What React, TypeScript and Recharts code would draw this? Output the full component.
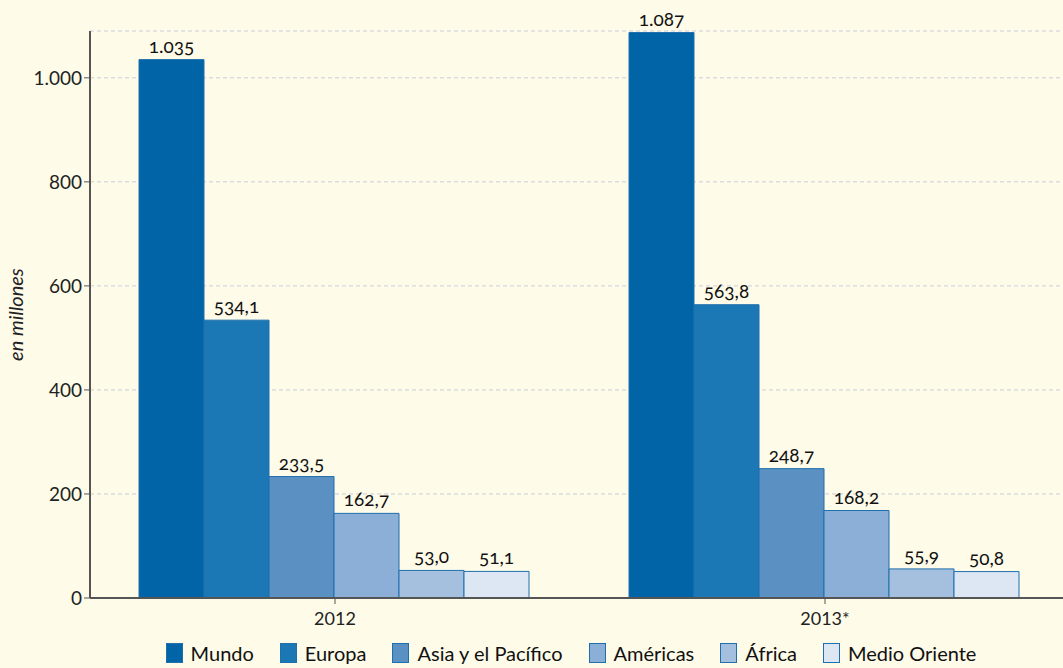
import { BarChart, Bar, XAxis, YAxis, CartesianGrid, Legend, LabelList } from 'recharts'

const years = ['2012', '2013*']
const regions = ['Mundo', 'Europa', 'Asia y el Pacífico', 'Américas', 'África', 'Medio Oriente']
const mundo = [1035, 1087]
const europa = [534.1, 563.8]
const asia = [233.5, 248.7]
const americas = [162.7, 168.2]
const africa = [53.0, 55.9]
const medioOriente = [51.1, 50.8]
const yTicks = [0, 200, 400, 600, 800, 1000]

const series = [mundo, europa, asia, americas, africa, medioOriente]
const colors = ['#0064a7', '#1c78b4', '#5b90c3', '#8bafd6', '#a5bfdf', '#dce7f3']
const keys = ['mundo', 'europa', 'asia', 'americas', 'africa', 'medio']

const data = years.map((year, i) => {
  const row: { [key: string]: string | number } = { year }
  keys.forEach((k, s) => { row[k] = series[s][i] })
  return row
})

const fmtNum = (v: number): string => {
  if (v >= 1000) return `${Math.floor(v / 1000)}.${String(Math.round(v % 1000)).padStart(3, '0')}`
  return v.toFixed(1).replace('.', ',')
}
const fmtTick = (v: number): string =>
  v >= 1000 ? `${Math.floor(v / 1000)}.${String(v % 1000).padStart(3, '0')}` : String(v)

const font = 'Lato, "Open Sans", sans-serif'

const LegendContent = () => (
  <div style={{ display: 'flex', justifyContent: 'center', alignItems: 'center', height: 40, paddingTop: 10, paddingLeft: 98, boxSizing: 'border-box', fontFamily: font, fontSize: 20, color: '#111' }}>
    {regions.map((r, i) => (
      <div key={r} style={{ display: 'flex', alignItems: 'center', marginRight: 26 }}>
        <span style={{ display: 'inline-block', width: 15, height: 18, background: colors[i], border: '1px solid #1f6fae', marginRight: 8 }} />
        <span>{r}</span>
      </div>
    ))}
  </div>
)

export default function App() {
  return (
    <div style={{ position: 'absolute', left: 0, top: 0, width: 1063, height: 668, overflow: 'hidden', background: '#fefbe9' }}>
      <BarChart width={1080} height={668} data={data} barCategoryGap="10%" barGap={0}
        margin={{ top: 31, right: 10, left: 0, bottom: 0 }}>
        <CartesianGrid vertical={false} strokeDasharray="4 3" stroke="#c9ccd9" />
        <XAxis dataKey="year" height={30} tickSize={6} tickMargin={8} tickLine={{ stroke: '#555' }}
          axisLine={{ stroke: '#555', strokeWidth: 2 }}
          tick={{ fill: '#222', fontSize: 18, fontFamily: font }} />
        <YAxis width={90} domain={[0, 1090]} ticks={yTicks} tickFormatter={fmtTick} tickSize={6}
          tickLine={{ stroke: '#555' }} axisLine={{ stroke: '#555', strokeWidth: 2 }}
          tick={{ fill: '#222', fontSize: 19, fontFamily: font }}
          label={{ value: 'en millones', angle: -90, position: 'insideLeft', offset: 16, style: { fontStyle: 'italic', fontSize: 20, fontFamily: font, fill: '#222', textAnchor: 'middle' } }} />
        <Legend verticalAlign="bottom" wrapperStyle={{ height: 40 }} content={<LegendContent />} />
        {keys.map((k, i) => (
          <Bar key={k} dataKey={k} name={regions[i]} fill={colors[i]} stroke="#1f6fae" strokeWidth={1} isAnimationActive={false}>
            <LabelList dataKey={k} position="top" offset={7} formatter={(v: number) => fmtNum(v)}
              style={{ fill: '#111', fontSize: 19, fontFamily: font, fontVariantNumeric: 'oldstyle-nums' }} />
          </Bar>
        ))}
      </BarChart>
    </div>
  )
}
